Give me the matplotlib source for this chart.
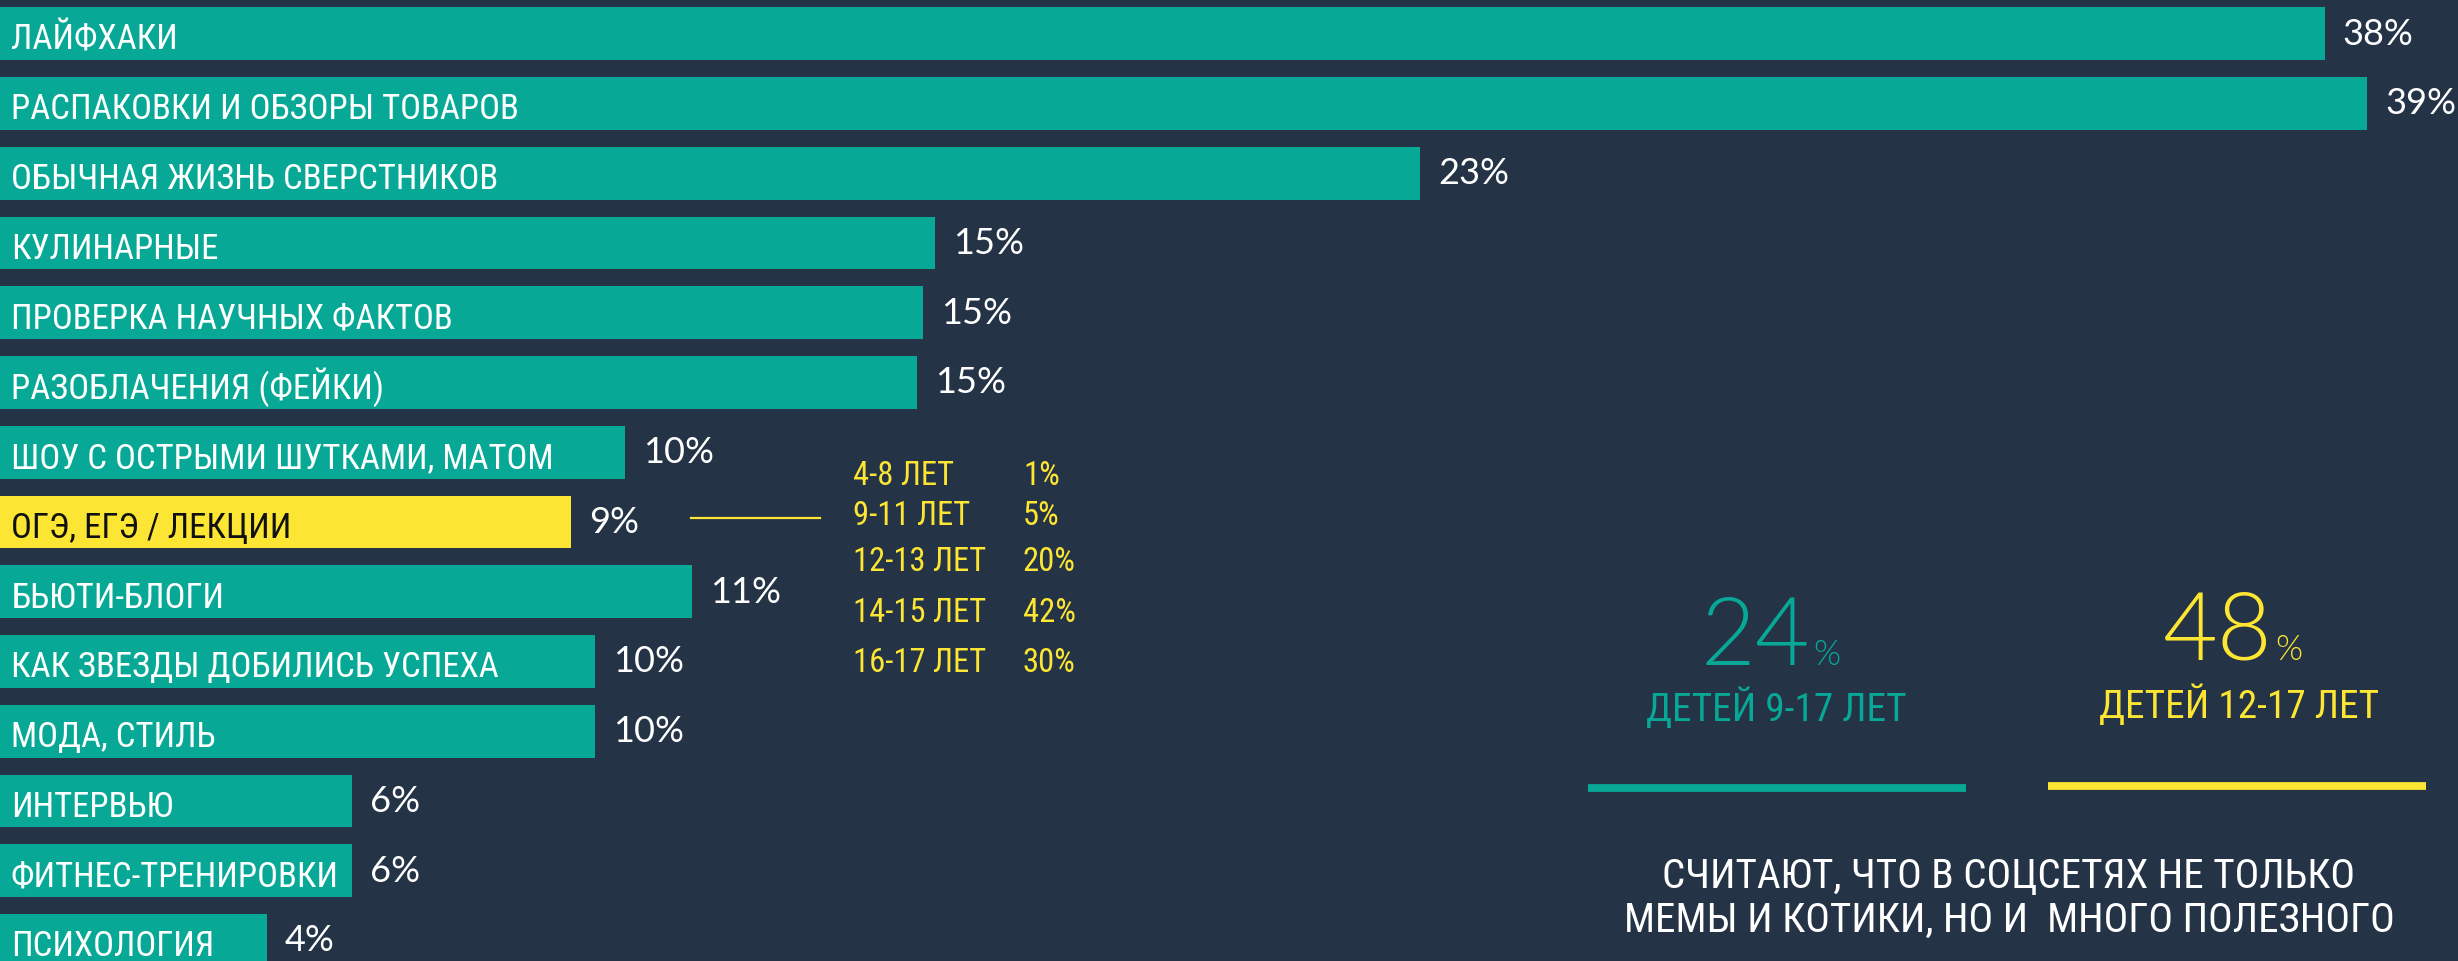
import matplotlib
matplotlib.use("Agg")
import matplotlib.pyplot as plt
from matplotlib import font_manager as fm

# ---------------- data ----------------
categories = [
    "ЛАЙФХАКИ", "РАСПАКОВКИ И ОБЗОРЫ ТОВАРОВ", "ОБЫЧНАЯ ЖИЗНЬ СВЕРСТНИКОВ",
    "КУЛИНАРНЫЕ", "ПРОВЕРКА НАУЧНЫХ ФАКТОВ", "РАЗОБЛАЧЕНИЯ (ФЕЙКИ)",
    "ШОУ С ОСТРЫМИ ШУТКАМИ, МАТОМ", "ОГЭ, ЕГЭ / ЛЕКЦИИ", "БЬЮТИ-БЛОГИ",
    "КАК ЗВЕЗДЫ ДОБИЛИСЬ УСПЕХА", "МОДА, СТИЛЬ", "ИНТЕРВЬЮ",
    "ФИТНЕС-ТРЕНИРОВКИ", "ПСИХОЛОГИЯ",
]
bar_lengths = [38.3, 39.0, 23.4, 15.4, 15.2, 15.1, 10.3, 9.4, 11.4, 9.8, 9.8, 5.8, 5.8, 4.4]
value_labels = ["38%", "39%", "23%", "15%", "15%", "15%", "10%", "9%", "11%",
                "10%", "10%", "6%", "6%", "4%"]
highlight_index = 7

age_groups = ["4-8 ЛЕТ", "9-11 ЛЕТ", "12-13 ЛЕТ", "14-15 ЛЕТ", "16-17 ЛЕТ"]
age_values = ["1%", "5%", "20%", "42%", "30%"]

stat_numbers = ["24", "48"]
stat_captions = ["ДЕТЕЙ 9-17 ЛЕТ", "ДЕТЕЙ 12-17 ЛЕТ"]
footer_lines = ["СЧИТАЮТ, ЧТО В СОЦСЕТЯХ НЕ ТОЛЬКО",
                "МЕМЫ И КОТИКИ, НО И  МНОГО ПОЛЕЗНОГО"]

# ---------------- style ----------------
BG = "#243346"
TEAL = "#07A996"
YELLOW = "#FCE633"
WHITE = "#FFFFFF"

W, H = 2458, 961
DPI = 100

names = {f.name for f in fm.fontManager.ttflist}
cond_family = None
cond_stretch = "normal"
for n in ["Liberation Sans Narrow", "Roboto Condensed", "Open Sans Condensed",
          "DejaVu Sans Condensed", "Noto Sans Condensed"]:
    if n in names:
        cond_family = n
        break
if cond_family is None:
    if any(f.name == "DejaVu Sans" and str(f.stretch) in ("condensed", "semi-condensed")
           for f in fm.fontManager.ttflist):
        cond_family = "DejaVu Sans"
        cond_stretch = "condensed"
    else:
        cond_family = "Roboto"
geo_family = "Lato" if "Lato" in names else "DejaVu Sans"

fig = plt.figure(figsize=(W / DPI, H / DPI), dpi=DPI, facecolor=BG)
ax = fig.add_axes([0, 0, 1, 1])
ax.set_facecolor(BG)
ax.axis("off")

px_per_unit = 60.7      # pixels per percent
row_px = 69.75          # pixels per row
first_center = 33.7
ax.set_xlim(0, W / px_per_unit)
ax.set_ylim((H - first_center) / row_px, -first_center / row_px)

ypos = list(range(len(categories)))
colors = [YELLOW if i == highlight_index else TEAL for i in ypos]
ax.barh(ypos, bar_lengths, height=0.755, color=colors, left=0)

renderer = fig.canvas.get_renderer()


def fit_size(text, target_px, family, stretch="normal", weight="normal", base=20):
    t = fig.text(0, 0, text, fontsize=base, family=family, fontstretch=stretch,
                 fontweight=weight)
    w = t.get_window_extent(renderer).width
    t.remove()
    return base * target_px / w


cat_size = fit_size("РАСПАКОВКИ И ОБЗОРЫ ТОВАРОВ", 516, cond_family, cond_stretch)
cat_size = min(cat_size, 25)

for i, (cat, length, lab) in enumerate(zip(categories, bar_lengths, value_labels)):
    tc = "#111111" if i == highlight_index else WHITE
    ax.text(11 / px_per_unit, i + 16 / row_px, cat, color=tc, fontsize=cat_size,
            family=cond_family, fontstretch=cond_stretch, ha="left", va="baseline")
    ax.annotate(lab, xy=(length, i + 11 / row_px), xytext=(13, 0),
                textcoords="offset points", color=WHITE, fontsize=26,
                family=geo_family, ha="left", va="baseline")


def fx(x):
    return x / W


def fy(y):
    return 1 - y / H


# connector line for highlighted row
fig.add_artist(plt.Line2D([fx(691), fx(820)], [fy(518), fy(518)], color=YELLOW, lw=1.6))

age_size = fit_size("12-13 ЛЕТ", 133, cond_family, cond_stretch)
age_baselines = [485, 525, 571, 622, 672]
for g, v, yb in zip(age_groups, age_values, age_baselines):
    fig.text(fx(853), fy(yb), g, color=YELLOW, fontsize=age_size, family=cond_family,
             fontstretch=cond_stretch, ha="left", va="baseline")
    fig.text(fx(1023), fy(yb), v, color=YELLOW, fontsize=age_size, family=cond_family,
             fontstretch=cond_stretch, ha="left", va="baseline")

# big stats
stat_colors = [TEAL, YELLOW]
num_right = [1810, 2272]
num_base = [665, 660]
cap_center = [1776, 2239]
cap_base = [721, 718]
line_x = [(1588, 1966), (2048, 2426)]
line_y = [788, 786]
cap_size = fit_size("ДЕТЕЙ 9-17 ЛЕТ", 260, cond_family, cond_stretch)
for k in range(2):
    c = stat_colors[k]
    fig.text(fx(num_right[k]), fy(num_base[k]), stat_numbers[k], color=c, fontsize=68,
             family=geo_family, fontweight=300, ha="right", va="baseline")
    fig.text(fx(num_right[k] + 3), fy(num_base[k]), "%", color=c, fontsize=25,
             family=geo_family, fontweight=300, ha="left", va="baseline")
    fig.text(fx(cap_center[k]), fy(cap_base[k]), stat_captions[k], color=c,
             fontsize=cap_size, family=cond_family, fontstretch=cond_stretch,
             ha="center", va="baseline")
    fig.add_artist(plt.Line2D([fx(line_x[k][0]), fx(line_x[k][1])],
                              [fy(line_y[k]), fy(line_y[k])], color=c, lw=5.6,
                              solid_capstyle="butt"))

foot_size = fit_size(footer_lines[1], 770, cond_family, cond_stretch)
for line, yb in zip(footer_lines, [888, 932]):
    fig.text(fx(2009), fy(yb), line, color=WHITE, fontsize=foot_size,
             family=cond_family, fontstretch=cond_stretch, ha="center", va="baseline")

fig.savefig("out.png", dpi=DPI, facecolor=BG)
